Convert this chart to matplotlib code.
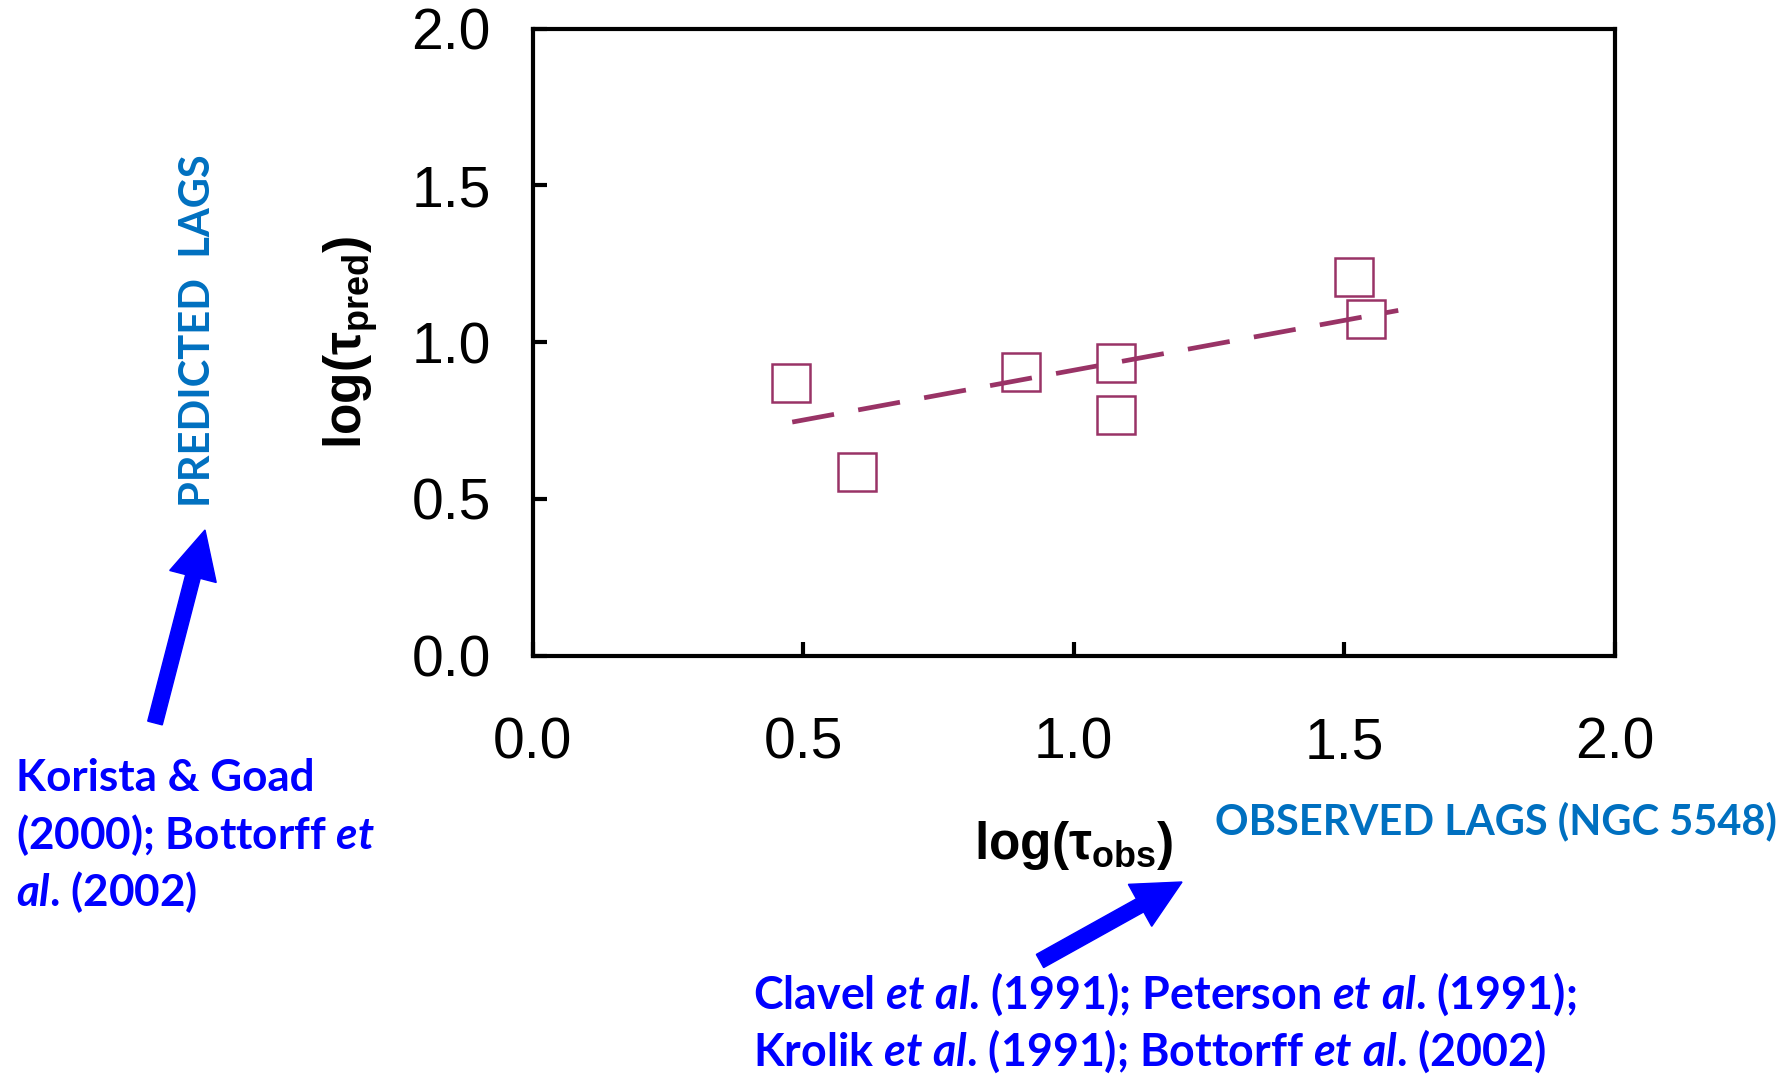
import matplotlib
matplotlib.use("Agg")
import matplotlib.pyplot as plt
from matplotlib.patches import FancyArrow
from matplotlib.transforms import IdentityTransform

plt.rcParams['mathtext.fontset'] = 'custom'
plt.rcParams['mathtext.rm'] = 'Liberation Sans:bold'
plt.rcParams['mathtext.bf'] = 'Liberation Sans:bold'
plt.rcParams['mathtext.it'] = 'Lato:italic:bold'

# Lags: observed vs predicted (log days)
log_tau_obs = [0.478, 0.600, 0.903, 1.078, 1.078, 1.519, 1.540]
log_tau_pred = [0.871, 0.586, 0.906, 0.934, 0.769, 1.209, 1.073]

# Linear trend drawn through the points
trend_x = [0.48, 1.60]
trend_y = [0.745, 1.101]

ticks = [0.0, 0.5, 1.0, 1.5, 2.0]
tick_labels = ['0.0', '0.5', '1.0', '1.5', '2.0']

W, H = 1788, 1074
fig = plt.figure(figsize=(W / 100, H / 100), dpi=100)
ax = fig.add_axes([532.5 / W, 1 - 655.7 / H, (1614.7 - 532.5) / W, (655.7 - 28.5) / H])

plum = '#993366'
ax.plot(log_tau_obs, log_tau_pred, linestyle='none', marker='s', markersize=27,
        markerfacecolor='none', markeredgecolor=plum, markeredgewidth=1.8, zorder=3)
ax.plot(trend_x, trend_y, color=plum, linewidth=3.4, dashes=(9, 5.2), zorder=2)

ax.set_xlim(0, 2)
ax.set_ylim(0, 2)
ax.set_xticks(ticks)
ax.set_xticklabels(tick_labels)
ax.set_yticks(ticks)
ax.set_yticklabels(tick_labels)
for sp in ax.spines.values():
    sp.set_linewidth(3.0)
ax.tick_params(direction='in', length=10, width=3.0, labelsize=41,
               top=False, right=False)
ax.tick_params(axis='y', pad=30)
ax.tick_params(axis='x', pad=44)
for lab in ax.get_xticklabels() + ax.get_yticklabels():
    lab.set_fontfamily('Liberation Sans')

ax.set_xlabel('log(τ$_\\mathrm{obs}$)', fontsize=37, fontweight='bold',
              family='Liberation Sans')
ax.set_ylabel('log(τ$_\\mathrm{pred}$)', fontsize=37, fontweight='bold',
              family='Liberation Sans')
ax.xaxis.set_label_coords(0.5, (655.7 - 846) / (655.7 - 28.5), transform=ax.transAxes)
ax.xaxis.label.set_verticalalignment('center')
ax.yaxis.set_label_coords((351 - 532.5) / (1614.7 - 532.5), 0.5, transform=ax.transAxes)
ax.yaxis.label.set_verticalalignment('center')

lblue = '#0070C0'
blue = '#0000FF'
fig.text(198 / W, 1 - 331 / H, 'PREDICTED  LAGS', rotation=90, color=lblue,
         fontsize=30, fontweight='bold', family='Lato', ha='center', va='center')
fig.text(1777 / W, 1 - 821 / H, 'OBSERVED LAGS (NGC 5548)', color=lblue,
         fontsize=30, fontweight='bold', family='Lato', ha='right', va='center')

ETAL = '$\\mathit{et}$ $\\mathit{al}$'
left_refs = ['Korista & Goad',
             '(2000); Bottorff $\\mathit{et}$',
             '$\\mathit{al}$. (2002)']
left_y = [778, 835, 892]
for txt, yy in zip(left_refs, left_y):
    fig.text(16 / W, 1 - yy / H, txt, color=blue, fontsize=31.7,
             fontweight='bold', family='Lato', va='center')

bottom_refs = [f'Clavel {ETAL}. (1991); Peterson {ETAL}. (1991);',
               f'Krolik {ETAL}. (1991); Bottorff {ETAL}. (2002)']
bottom_y = [994, 1051]
for txt, yy in zip(bottom_refs, bottom_y):
    fig.text(753 / W, 1 - yy / H, txt, color=blue, fontsize=32.2,
             fontweight='bold', family='Lato', va='center')

# Arrows pointing at the axis titles
for (x0, y0, x1, y1) in [(155, 723, 205, 530), (1040, 961, 1182, 882)]:
    arr = FancyArrow(x0, H - y0, x1 - x0, -(y1 - y0), width=15, head_width=48,
                     head_length=48, length_includes_head=True, color=blue,
                     transform=IdentityTransform())
    fig.add_artist(arr)

fig.savefig('out.png', dpi=100)
